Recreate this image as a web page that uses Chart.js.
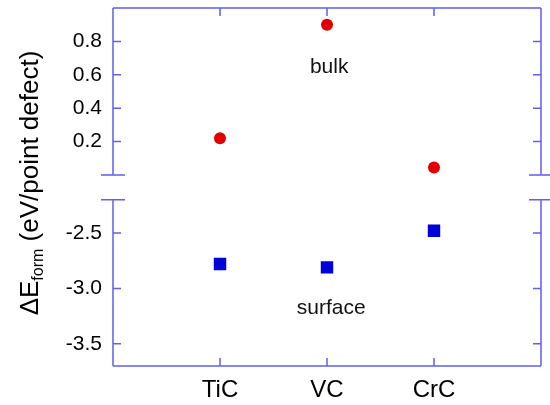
<!DOCTYPE html>
<html>
<head>
<meta charset="utf-8">
<script src="https://cdn.jsdelivr.net/npm/chart.js@4.4.1/dist/chart.umd.min.js"></script>
<style>
  html, body { margin: 0; padding: 0; background: #fff; }
  #wrap { position: relative; width: 550px; height: 405px; overflow: hidden; }
  #topChart { position: absolute; left: 0; top: 0; }
  #botChart { position: absolute; left: 0; top: 191px; }
  #ytitle {
    position: absolute; width: 320px; height: 30px; line-height: 30px;
    left: -130.6px; top: 167.5px; transform: rotate(-90deg);
    text-align: center; white-space: nowrap; color: #000;
    font: 26px "Liberation Sans", Arial, sans-serif;
  }
  #ytitle sub { font-size: 16px; vertical-align: -5px; line-height: 0; }
</style>
</head>
<body>
<div id="wrap">
  <canvas id="topChart" width="550" height="183"></canvas>
  <canvas id="botChart" width="550" height="214"></canvas>
  <div id="ytitle">&Delta;E<sub>form</sub> (eV/point defect)</div>
</div>
<script>
const categories = ['TiC', 'VC', 'CrC'];
const bulkValues = [0.22, 0.90, 0.045];
const surfaceValues = [-2.78, -2.81, -2.48];
const topTicks = [0.2, 0.4, 0.6, 0.8];
const bottomTicks = [-3.5, -3.0, -2.5];

const axisColor = '#5f5ff0';
const fontFamily = '"Liberation Sans", Arial, sans-serif';

// frame, inward ticks and break marks, drawn from the chart's own scales
function framePlugin(part) {
    return {
        id: 'frame',
        afterDraw(chart) {
            const { ctx, chartArea: a, scales: { x, y } } = chart;
            const edge = part === 'top' ? a.top : a.bottom;
            const brk = part === 'top' ? a.bottom : a.top;
            ctx.save();
            ctx.strokeStyle = axisColor;
            ctx.lineWidth = 1.5;
            ctx.beginPath();
            ctx.moveTo(a.left, a.top); ctx.lineTo(a.left, a.bottom);
            ctx.moveTo(a.right, a.top); ctx.lineTo(a.right, a.bottom);
            ctx.moveTo(a.left, edge); ctx.lineTo(a.right, edge);
            ctx.moveTo(a.left - 12, brk); ctx.lineTo(a.left + 12, brk);
            ctx.moveTo(a.right - 12, brk); ctx.lineTo(a.right + 12, brk);
            y.ticks.forEach(t => {
                const py = y.getPixelForValue(t.value);
                ctx.moveTo(a.left, py); ctx.lineTo(a.left + 8, py);
                ctx.moveTo(a.right, py); ctx.lineTo(a.right - 8, py);
            });
            categories.forEach((c, i) => {
                const px = x.getPixelForValue(i + 1);
                ctx.moveTo(px, edge);
                ctx.lineTo(px, part === 'top' ? edge + 8 : edge - 8);
            });
            ctx.stroke();
            ctx.restore();
        }
    };
}

function labelPlugin(text, xv, yv) {
    return {
        id: 'label',
        afterDatasetsDraw(chart) {
            const { ctx, scales: { x, y } } = chart;
            ctx.save();
            ctx.font = '21px ' + fontFamily;
            ctx.fillStyle = '#111';
            ctx.textAlign = 'center';
            ctx.textBaseline = 'middle';
            ctx.fillText(text, x.getPixelForValue(xv), y.getPixelForValue(yv));
            ctx.restore();
        }
    };
}

function yScale(min, max, ticks) {
    return {
        min: min, max: max,
        afterBuildTicks: s => { s.ticks = ticks.map(v => ({ value: v })); },
        afterFit: s => { s.width = 113; s.paddingTop = 0; s.paddingBottom = 0; },
        grid: { display: false, drawTicks: false },
        border: { display: false },
        ticks: {
            padding: 11, color: '#000',
            font: { family: fontFamily, size: 21 },
            callback: v => Number(v).toFixed(1)
        }
    };
}

new Chart(document.getElementById('topChart'), {
    type: 'scatter',
    data: {
        datasets: [{
            label: 'bulk',
            data: bulkValues.map((v, i) => ({ x: i + 1, y: v })),
            pointStyle: 'circle',
            pointRadius: 6,
            backgroundColor: '#e00000',
            borderWidth: 0
        }]
    },
    options: {
        responsive: false,
        animation: false,
        layout: { padding: { top: 8, bottom: 8, left: 0, right: 9 } },
        plugins: { legend: { display: false }, tooltip: { enabled: false } },
        scales: {
            x: { type: 'linear', min: 0, max: 4, display: false },
            y: yScale(0, 1, topTicks)
        }
    },
    plugins: [framePlugin('top'), labelPlugin('bulk', 2.02, 0.645)]
});

new Chart(document.getElementById('botChart'), {
    type: 'scatter',
    data: {
        datasets: [{
            label: 'surface',
            data: surfaceValues.map((v, i) => ({ x: i + 1, y: v })),
            pointStyle: 'rect',
            pointRadius: 8.8,
            backgroundColor: '#0000d8',
            borderWidth: 0
        }]
    },
    options: {
        responsive: false,
        animation: false,
        layout: { padding: { top: 8, bottom: 0, left: 0, right: 9 } },
        plugins: { legend: { display: false }, tooltip: { enabled: false } },
        scales: {
            x: {
                type: 'linear', min: 0, max: 4,
                afterBuildTicks: s => { s.ticks = categories.map((c, i) => ({ value: i + 1 })); },
                afterFit: s => { s.height = 39; s.paddingLeft = 0; s.paddingRight = 0; },
                grid: { display: false, drawTicks: false },
                border: { display: false },
                ticks: {
                    padding: 10, color: '#000',
                    font: { family: fontFamily, size: 24 },
                    callback: v => categories[v - 1] || ''
                }
            },
            y: yScale(-3.7, -2.2, bottomTicks)
        }
    },
    plugins: [framePlugin('bottom'), labelPlugin('surface', 2.04, -3.18)]
});
</script>
</body>
</html>
